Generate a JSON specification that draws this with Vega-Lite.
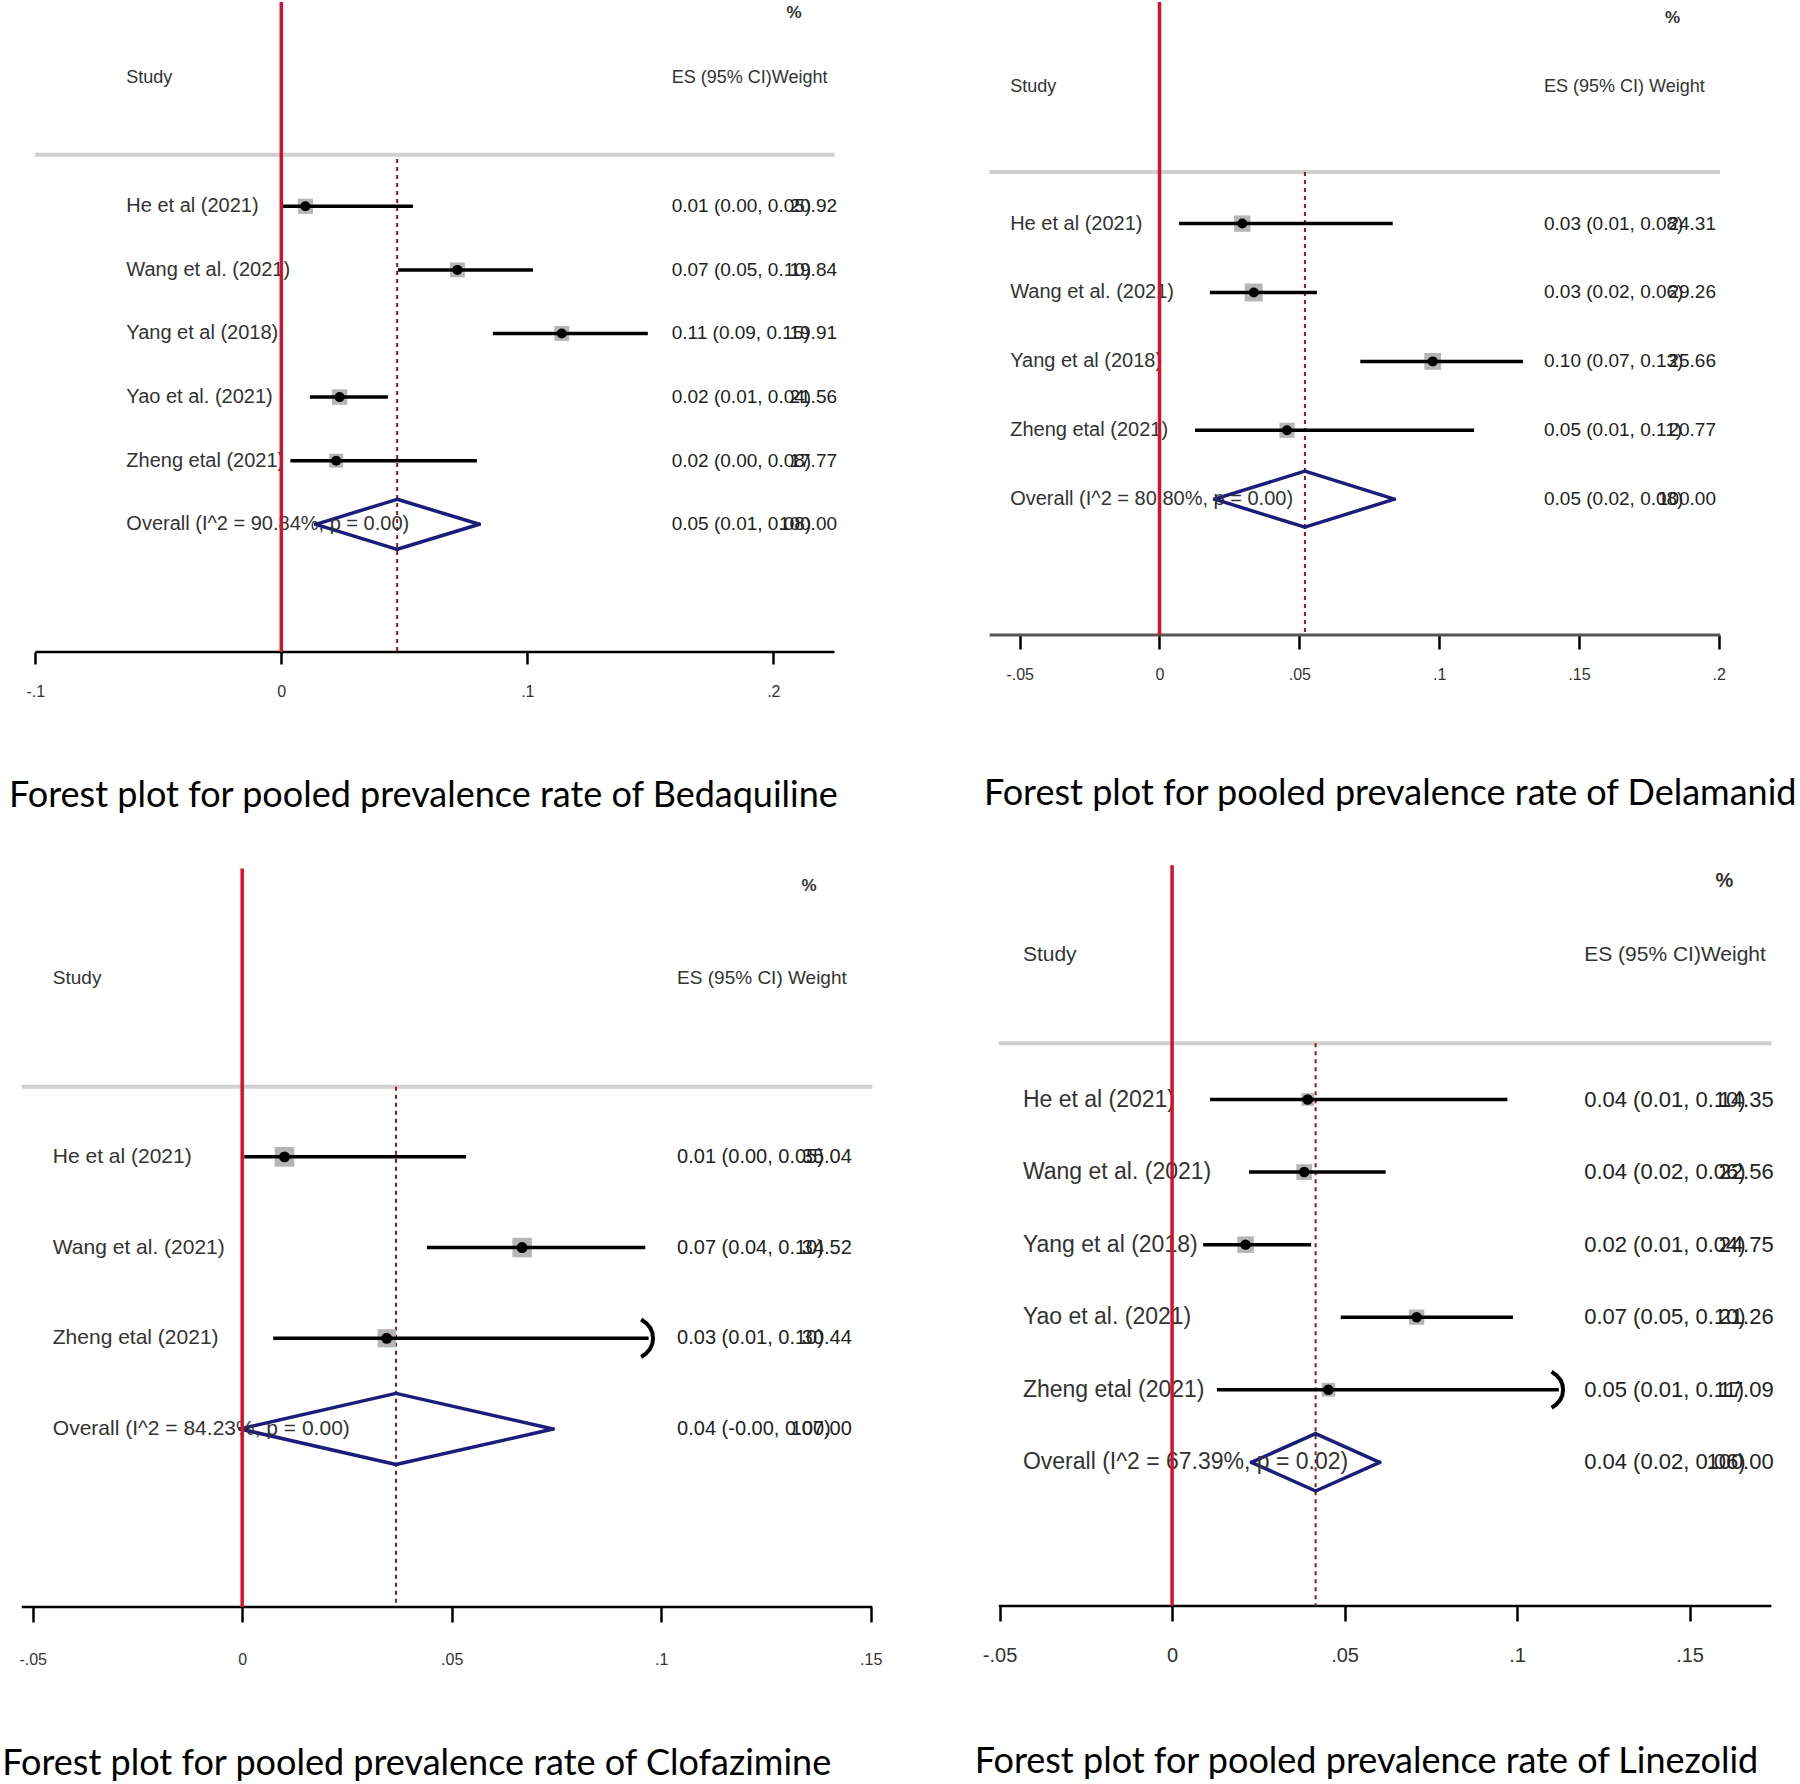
{
"$schema": "https://vega.github.io/schema/vega-lite/v6.json",
"padding": 0,
"background": "white",
"bounds": "flush",
"columns": 2,
"spacing": {"row": 210, "column": 0},
"config": {"view": {"stroke": null}, "axisY": {"disable": true}, "axis": {"grid": false}},
"datasets": {
"bed": [
{"study": "He et al (2021)", "row": 1, "es": 0.0098, "lo": 0.0005, "hi": 0.0535, "weight": 20.92, "esText": "0.01 (0.00, 0.05)", "wText": "20.92", "type": "study", "arrow": false},
{"study": "Wang et al. (2021)", "row": 2, "es": 0.0716, "lo": 0.0474, "hi": 0.1023, "weight": 19.84, "esText": "0.07 (0.05, 0.10)", "wText": "19.84", "type": "study", "arrow": false},
{"study": "Yang et al (2018)", "row": 3, "es": 0.114, "lo": 0.086, "hi": 0.149, "weight": 19.91, "esText": "0.11 (0.09, 0.15)", "wText": "19.91", "type": "study", "arrow": false},
{"study": "Yao et al. (2021)", "row": 4, "es": 0.0237, "lo": 0.0116, "hi": 0.0433, "weight": 21.56, "esText": "0.02 (0.01, 0.04)", "wText": "21.56", "type": "study", "arrow": false},
{"study": "Zheng etal (2021)", "row": 5, "es": 0.0223, "lo": 0.0037, "hi": 0.0795, "weight": 17.77, "esText": "0.02 (0.00, 0.08)", "wText": "17.77", "type": "study", "arrow": false},
{"study": "Overall  (I^2 = 90.84%, p = 0.00)", "row": 6, "es": 0.0471, "lo": 0.014, "hi": 0.0805, "weight": 100, "esText": "0.05 (0.01, 0.08)", "wText": "100.00", "type": "overall", "arrow": false}
],
"del": [
{"study": "He et al (2021)", "row": 1, "es": 0.0296, "lo": 0.007, "hi": 0.0834, "weight": 24.31, "esText": "0.03 (0.01, 0.08)", "wText": "24.31", "type": "study", "arrow": false},
{"study": "Wang et al. (2021)", "row": 2, "es": 0.0337, "lo": 0.018, "hi": 0.0563, "weight": 29.26, "esText": "0.03 (0.02, 0.06)", "wText": "29.26", "type": "study", "arrow": false},
{"study": "Yang et al (2018)", "row": 3, "es": 0.0977, "lo": 0.0718, "hi": 0.13, "weight": 25.66, "esText": "0.10 (0.07, 0.13)", "wText": "25.66", "type": "study", "arrow": false},
{"study": "Zheng etal (2021)", "row": 4, "es": 0.0456, "lo": 0.0127, "hi": 0.1125, "weight": 20.77, "esText": "0.05 (0.01, 0.11)", "wText": "20.77", "type": "study", "arrow": false},
{"study": "Overall  (I^2 = 80.80%, p = 0.00)", "row": 5, "es": 0.052, "lo": 0.0197, "hi": 0.084, "weight": 100, "esText": "0.05 (0.02, 0.08)", "wText": "100.00", "type": "overall", "arrow": false}
],
"clo": [
{"study": "He et al (2021)", "row": 1, "es": 0.0101, "lo": 0.0005, "hi": 0.0534, "weight": 35.04, "esText": "0.01 (0.00, 0.05)", "wText": "35.04", "type": "study", "arrow": false},
{"study": "Wang et al. (2021)", "row": 2, "es": 0.0668, "lo": 0.0441, "hi": 0.0962, "weight": 34.52, "esText": "0.07 (0.04, 0.10)", "wText": "34.52", "type": "study", "arrow": false},
{"study": "Zheng etal (2021)", "row": 3, "es": 0.0345, "lo": 0.0074, "hi": 0.097, "weight": 30.44, "esText": "0.03 (0.01, 0.10)", "wText": "30.44", "type": "study", "arrow": true},
{"study": "Overall  (I^2 = 84.23%, p = 0.00)", "row": 4, "es": 0.0367, "lo": -0.0005, "hi": 0.0742, "weight": 100, "esText": "0.04 (-0.00, 0.07)", "wText": "100.00", "type": "overall", "arrow": false}
],
"lin": [
{"study": "He et al (2021)", "row": 1, "es": 0.0393, "lo": 0.011, "hi": 0.0972, "weight": 14.35, "esText": "0.04 (0.01, 0.10)", "wText": "14.35", "type": "study", "arrow": false},
{"study": "Wang et al. (2021)", "row": 2, "es": 0.0383, "lo": 0.0223, "hi": 0.0619, "weight": 22.56, "esText": "0.04 (0.02, 0.06)", "wText": "22.56", "type": "study", "arrow": false},
{"study": "Yang et al (2018)", "row": 3, "es": 0.0213, "lo": 0.009, "hi": 0.0403, "weight": 24.75, "esText": "0.02 (0.01, 0.04)", "wText": "24.75", "type": "study", "arrow": false},
{"study": "Yao et al. (2021)", "row": 4, "es": 0.0709, "lo": 0.0489, "hi": 0.0988, "weight": 21.26, "esText": "0.07 (0.05, 0.10)", "wText": "21.26", "type": "study", "arrow": false},
{"study": "Zheng etal (2021)", "row": 5, "es": 0.0453, "lo": 0.013, "hi": 0.1121, "weight": 17.09, "esText": "0.05 (0.01, 0.11)", "wText": "17.09", "type": "study", "arrow": true},
{"study": "Overall  (I^2 = 67.39%, p = 0.02)", "row": 6, "es": 0.0416, "lo": 0.023, "hi": 0.0602, "weight": 100, "esText": "0.04 (0.02, 0.06)", "wText": "100.00", "type": "overall", "arrow": false}
]
},
"concat": [
{
"width": 960, "height": 650, "data": {"name": "bed"},
"layer": [
{"data": {"values": [{}]}, "mark": {"type": "rule", "color": "#cfcfcf", "strokeWidth": 4},
 "encoding": {
  "x": {"datum": -0.1, "type": "quantitative", "scale": {"domain": [-0.11435, 0.27589], "nice": false, "zero": false},
        "axis": {"values": [-0.1, 0, 0.1, 0.2], "labelExpr": "datum.value == 0 ? '0' : (datum.value < 0 ? '-' : '') + replace(format(abs(datum.value), ''), '0.', '.')", "domain": false, "grid": false, "ticks": true, "tickSize": 12, "tickWidth": 2.5, "tickColor": "#000", "labelPadding": 19, "labelFontSize": 16, "labelFont": "Liberation Sans", "labelColor": "#333", "title": null}},
  "x2": {"datum": 0.2249},
  "y": {"datum": 0.1887, "type": "quantitative", "scale": {"domain": [-2.2123, 8.0079], "reverse": true, "nice": false, "zero": false}, "axis": null}}},
{"data": {"values": [{}]}, "mark": {"type": "rule", "color": "#000", "strokeWidth": 2.5}, "encoding": {"x": {"datum": -0.1}, "x2": {"datum": 0.2249}, "y": {"datum": 8.0079}}},
{"transform": [{"filter": "datum.type == 'overall'"}], "mark": {"type": "rule", "color": "#8b1a1a", "strokeWidth": 2, "strokeDash": [4, 4]}, "encoding": {"x": {"field": "es", "type": "quantitative", "title": null}, "y": {"datum": 0.256}, "y2": {"datum": 8.0079}}},
{"transform": [{"filter": "datum.type == 'study'"}], "mark": {"type": "point", "shape": "square", "filled": true, "color": "#b5b5b5", "opacity": 1}, "encoding": {"x": {"field": "es", "type": "quantitative", "title": null}, "y": {"field": "row", "type": "quantitative", "axis": null}, "size": {"field": "weight", "type": "quantitative", "scale": {"domain": [0, 100], "range": [0, 1100]}, "legend": null}}},
{"transform": [{"filter": "datum.type == 'study'"}], "mark": {"type": "rule", "color": "#000", "strokeWidth": 3.5}, "encoding": {"x": {"field": "lo", "type": "quantitative", "title": null}, "x2": {"field": "hi"}, "y": {"field": "row", "type": "quantitative", "axis": null}}},
{"transform": [{"filter": "datum.type == 'study'"}], "mark": {"type": "point", "shape": "circle", "filled": true, "color": "#000", "opacity": 1, "size": 100}, "encoding": {"x": {"field": "es", "type": "quantitative", "title": null}, "y": {"field": "row", "type": "quantitative", "axis": null}}},
{"transform": [{"filter": "datum.type == 'overall'"}], "mark": {"type": "rule", "color": "#1c1c7a", "strokeWidth": 3.5, "strokeCap": "round", "y2Offset": -25}, "encoding": {"x": {"field": "lo", "type": "quantitative", "title": null}, "x2": {"field": "es"}, "y": {"field": "row", "type": "quantitative", "axis": null}, "y2": {"field": "row"}}},
{"transform": [{"filter": "datum.type == 'overall'"}], "mark": {"type": "rule", "color": "#1c1c7a", "strokeWidth": 3.5, "strokeCap": "round", "y2Offset": 25}, "encoding": {"x": {"field": "lo", "type": "quantitative", "title": null}, "x2": {"field": "es"}, "y": {"field": "row", "type": "quantitative", "axis": null}, "y2": {"field": "row"}}},
{"transform": [{"filter": "datum.type == 'overall'"}], "mark": {"type": "rule", "color": "#1c1c7a", "strokeWidth": 3.5, "strokeCap": "round", "yOffset": -25}, "encoding": {"x": {"field": "es", "type": "quantitative", "title": null}, "x2": {"field": "hi"}, "y": {"field": "row", "type": "quantitative", "axis": null}, "y2": {"field": "row"}}},
{"transform": [{"filter": "datum.type == 'overall'"}], "mark": {"type": "rule", "color": "#1c1c7a", "strokeWidth": 3.5, "strokeCap": "round", "yOffset": 25}, "encoding": {"x": {"field": "es", "type": "quantitative", "title": null}, "x2": {"field": "hi"}, "y": {"field": "row", "type": "quantitative", "axis": null}, "y2": {"field": "row"}}},
{"mark": {"type": "text", "align": "left", "baseline": "middle", "font": "Liberation Sans", "fontSize": 20, "color": "#333"}, "encoding": {"x": {"datum": -0.063}, "y": {"field": "row", "type": "quantitative", "axis": null}, "text": {"field": "study"}}},
{"mark": {"type": "text", "align": "left", "baseline": "middle", "font": "Liberation Sans", "fontSize": 19, "color": "#222"}, "encoding": {"x": {"datum": 0.1587}, "y": {"field": "row", "type": "quantitative", "axis": null}, "text": {"field": "esText"}}},
{"mark": {"type": "text", "align": "right", "baseline": "middle", "font": "Liberation Sans", "fontSize": 19, "color": "#222"}, "encoding": {"x": {"datum": 0.2259}, "y": {"field": "row", "type": "quantitative", "axis": null}, "text": {"field": "wText"}}},
{"data": {"values": [{}]}, "mark": {"type": "text", "align": "left", "baseline": "middle", "font": "Liberation Sans", "fontSize": 18, "color": "#333"}, "encoding": {"x": {"datum": -0.063}, "y": {"datum": -1.017}, "text": {"value": "Study"}}},
{"data": {"values": [{}]}, "mark": {"type": "text", "align": "left", "baseline": "middle", "font": "Liberation Sans", "fontSize": 18, "color": "#333"}, "encoding": {"x": {"datum": 0.1587}, "y": {"datum": -1.017}, "text": {"value": "ES (95% CI)Weight"}}},
{"data": {"values": [{}]}, "mark": {"type": "text", "align": "center", "baseline": "middle", "font": "Liberation Sans", "fontSize": 17, "fontWeight": "bold", "color": "#333"}, "encoding": {"x": {"datum": 0.2084}, "y": {"datum": -2.0315}, "text": {"value": "%"}}},
{"data": {"values": [{}]}, "mark": {"type": "text", "align": "left", "baseline": "middle", "font": "Lato", "fontSize": 36, "color": "#000"}, "encoding": {"x": {"datum": -0.1107}, "y": {"datum": 10.272}, "text": {"value": "Forest plot for pooled prevalence rate of Bedaquiline"}}},
{"data": {"values": [{}]}, "mark": {"type": "rule", "color": "#d3122c", "strokeWidth": 3.5}, "encoding": {"x": {"datum": 0}, "y": {"datum": -2.2123}, "y2": {"datum": 8.0079}}}
]
},
{
"width": 840, "height": 633, "data": {"name": "del"},
"layer": [
{"data": {"values": [{}]}, "mark": {"type": "rule", "color": "#cfcfcf", "strokeWidth": 4},
 "encoding": {
  "x": {"datum": -0.06075, "type": "quantitative", "scale": {"domain": [-0.07134, 0.22904], "nice": false, "zero": false},
        "axis": {"values": [-0.05, 0, 0.05, 0.1, 0.15, 0.2], "labelExpr": "datum.value == 0 ? '0' : (datum.value < 0 ? '-' : '') + replace(format(abs(datum.value), ''), '0.', '.')", "domain": false, "grid": false, "ticks": true, "tickSize": 14, "tickWidth": 2.5, "tickColor": "#000", "labelPadding": 17, "labelFontSize": 16, "labelFont": "Liberation Sans", "labelColor": "#333", "title": null}},
  "x2": {"datum": 0.2005},
  "y": {"datum": 0.251, "type": "quantitative", "scale": {"domain": [-2.216, 6.971], "reverse": true, "nice": false, "zero": false}, "axis": null}}},
{"data": {"values": [{}]}, "mark": {"type": "rule", "color": "#555", "strokeWidth": 3}, "encoding": {"x": {"datum": -0.06075}, "x2": {"datum": 0.2005}, "y": {"datum": 6.971}}},
{"transform": [{"filter": "datum.type == 'overall'"}], "mark": {"type": "rule", "color": "#8b1a1a", "strokeWidth": 2, "strokeDash": [4, 4]}, "encoding": {"x": {"field": "es", "type": "quantitative", "title": null}, "y": {"datum": 0.251}, "y2": {"datum": 6.971}}},
{"transform": [{"filter": "datum.type == 'study'"}], "mark": {"type": "point", "shape": "square", "filled": true, "color": "#b5b5b5", "opacity": 1}, "encoding": {"x": {"field": "es", "type": "quantitative", "title": null}, "y": {"field": "row", "type": "quantitative", "axis": null}, "size": {"field": "weight", "type": "quantitative", "scale": {"domain": [0, 100], "range": [0, 900]}, "legend": null}}},
{"transform": [{"filter": "datum.type == 'study'"}], "mark": {"type": "rule", "color": "#000", "strokeWidth": 3.5}, "encoding": {"x": {"field": "lo", "type": "quantitative", "title": null}, "x2": {"field": "hi"}, "y": {"field": "row", "type": "quantitative", "axis": null}}},
{"transform": [{"filter": "datum.type == 'study'"}], "mark": {"type": "point", "shape": "circle", "filled": true, "color": "#000", "opacity": 1, "size": 100}, "encoding": {"x": {"field": "es", "type": "quantitative", "title": null}, "y": {"field": "row", "type": "quantitative", "axis": null}}},
{"transform": [{"filter": "datum.type == 'overall'"}], "mark": {"type": "rule", "color": "#1c1c7a", "strokeWidth": 3.5, "strokeCap": "round", "y2Offset": -28}, "encoding": {"x": {"field": "lo", "type": "quantitative", "title": null}, "x2": {"field": "es"}, "y": {"field": "row", "type": "quantitative", "axis": null}, "y2": {"field": "row"}}},
{"transform": [{"filter": "datum.type == 'overall'"}], "mark": {"type": "rule", "color": "#1c1c7a", "strokeWidth": 3.5, "strokeCap": "round", "y2Offset": 28}, "encoding": {"x": {"field": "lo", "type": "quantitative", "title": null}, "x2": {"field": "es"}, "y": {"field": "row", "type": "quantitative", "axis": null}, "y2": {"field": "row"}}},
{"transform": [{"filter": "datum.type == 'overall'"}], "mark": {"type": "rule", "color": "#1c1c7a", "strokeWidth": 3.5, "strokeCap": "round", "yOffset": -28}, "encoding": {"x": {"field": "es", "type": "quantitative", "title": null}, "x2": {"field": "hi"}, "y": {"field": "row", "type": "quantitative", "axis": null}, "y2": {"field": "row"}}},
{"transform": [{"filter": "datum.type == 'overall'"}], "mark": {"type": "rule", "color": "#1c1c7a", "strokeWidth": 3.5, "strokeCap": "round", "yOffset": 28}, "encoding": {"x": {"field": "es", "type": "quantitative", "title": null}, "x2": {"field": "hi"}, "y": {"field": "row", "type": "quantitative", "axis": null}, "y2": {"field": "row"}}},
{"mark": {"type": "text", "align": "left", "baseline": "middle", "font": "Liberation Sans", "fontSize": 20, "color": "#333"}, "encoding": {"x": {"datum": -0.0534}, "y": {"field": "row", "type": "quantitative", "axis": null}, "text": {"field": "study"}}},
{"mark": {"type": "text", "align": "left", "baseline": "middle", "font": "Liberation Sans", "fontSize": 19, "color": "#222"}, "encoding": {"x": {"datum": 0.1375}, "y": {"field": "row", "type": "quantitative", "axis": null}, "text": {"field": "esText"}}},
{"mark": {"type": "text", "align": "right", "baseline": "middle", "font": "Liberation Sans", "fontSize": 19, "color": "#222"}, "encoding": {"x": {"datum": 0.199}, "y": {"field": "row", "type": "quantitative", "axis": null}, "text": {"field": "wText"}}},
{"data": {"values": [{}]}, "mark": {"type": "text", "align": "left", "baseline": "middle", "font": "Liberation Sans", "fontSize": 18, "color": "#333"}, "encoding": {"x": {"datum": -0.0534}, "y": {"datum": -0.982}, "text": {"value": "Study"}}},
{"data": {"values": [{}]}, "mark": {"type": "text", "align": "left", "baseline": "middle", "font": "Liberation Sans", "fontSize": 18, "color": "#333"}, "encoding": {"x": {"datum": 0.1375}, "y": {"datum": -0.982}, "text": {"value": "ES (95% CI) Weight"}}},
{"data": {"values": [{}]}, "mark": {"type": "text", "align": "center", "baseline": "middle", "font": "Liberation Sans", "fontSize": 17, "fontWeight": "bold", "color": "#333"}, "encoding": {"x": {"datum": 0.1835}, "y": {"datum": -1.984}, "text": {"value": "%"}}},
{"data": {"values": [{}]}, "mark": {"type": "text", "align": "left", "baseline": "middle", "font": "Lato", "fontSize": 36, "color": "#000"}, "encoding": {"x": {"datum": -0.0628}, "y": {"datum": 9.279}, "text": {"value": "Forest plot for pooled prevalence rate of Delamanid"}}},
{"data": {"values": [{}]}, "mark": {"type": "rule", "color": "#d3122c", "strokeWidth": 3.5}, "encoding": {"x": {"datum": 0}, "y": {"datum": -2.216}, "y2": {"datum": 6.971}}}
]
},
{
"width": 960, "height": 745, "data": {"name": "clo"},
"layer": [
{"data": {"values": [{}]}, "mark": {"type": "rule", "color": "#cfcfcf", "strokeWidth": 4},
 "encoding": {
  "x": {"datum": -0.0526, "type": "quantitative", "scale": {"domain": [-0.0578, 0.17131], "nice": false, "zero": false},
        "axis": {"values": [-0.05, 0, 0.05, 0.1, 0.15], "labelExpr": "datum.value == 0 ? '0' : (datum.value < 0 ? '-' : '') + replace(format(abs(datum.value), ''), '0.', '.')", "domain": false, "grid": false, "ticks": true, "tickSize": 15, "tickWidth": 2.5, "tickColor": "#000", "labelPadding": 29, "labelFontSize": 16, "labelFont": "Liberation Sans", "labelColor": "#333", "title": null}},
  "x2": {"datum": 0.1504},
  "y": {"datum": 0.228, "type": "quantitative", "scale": {"domain": [-2.251, 5.963], "reverse": true, "nice": false, "zero": false}, "axis": null}}},
{"data": {"values": [{}]}, "mark": {"type": "rule", "color": "#000", "strokeWidth": 2.5}, "encoding": {"x": {"datum": -0.0526}, "x2": {"datum": 0.1504}, "y": {"datum": 5.963}}},
{"transform": [{"filter": "datum.type == 'overall'"}], "mark": {"type": "rule", "color": "#8b1a1a", "strokeWidth": 2, "strokeDash": [4, 4]}, "encoding": {"x": {"field": "es", "type": "quantitative", "title": null}, "y": {"datum": 0.228}, "y2": {"datum": 5.963}}},
{"transform": [{"filter": "datum.type == 'study'"}], "mark": {"type": "point", "shape": "square", "filled": true, "color": "#b5b5b5", "opacity": 1}, "encoding": {"x": {"field": "es", "type": "quantitative", "title": null}, "y": {"field": "row", "type": "quantitative", "axis": null}, "size": {"field": "weight", "type": "quantitative", "scale": {"domain": [0, 100], "range": [0, 1600]}, "legend": null}}},
{"transform": [{"filter": "datum.type == 'study'"}], "mark": {"type": "rule", "color": "#000", "strokeWidth": 3.5}, "encoding": {"x": {"field": "lo", "type": "quantitative", "title": null}, "x2": {"field": "hi"}, "y": {"field": "row", "type": "quantitative", "axis": null}}},
{"transform": [{"filter": "datum.type == 'study'"}], "mark": {"type": "point", "shape": "circle", "filled": true, "color": "#000", "opacity": 1, "size": 120}, "encoding": {"x": {"field": "es", "type": "quantitative", "title": null}, "y": {"field": "row", "type": "quantitative", "axis": null}}},
{"transform": [{"filter": "datum.arrow"}], "mark": {"type": "point", "shape": "M-0.4,-1C0.45,-0.5 0.45,0.5 -0.4,1", "filled": false, "stroke": "#000", "strokeWidth": 4, "opacity": 1, "size": 1400}, "encoding": {"x": {"field": "hi", "type": "quantitative", "title": null}, "y": {"field": "row", "type": "quantitative", "axis": null}}},
{"transform": [{"filter": "datum.type == 'overall'"}], "mark": {"type": "rule", "color": "#1c1c7a", "strokeWidth": 3.5, "strokeCap": "round", "y2Offset": -35.6}, "encoding": {"x": {"field": "lo", "type": "quantitative", "title": null}, "x2": {"field": "es"}, "y": {"field": "row", "type": "quantitative", "axis": null}, "y2": {"field": "row"}}},
{"transform": [{"filter": "datum.type == 'overall'"}], "mark": {"type": "rule", "color": "#1c1c7a", "strokeWidth": 3.5, "strokeCap": "round", "y2Offset": 35.6}, "encoding": {"x": {"field": "lo", "type": "quantitative", "title": null}, "x2": {"field": "es"}, "y": {"field": "row", "type": "quantitative", "axis": null}, "y2": {"field": "row"}}},
{"transform": [{"filter": "datum.type == 'overall'"}], "mark": {"type": "rule", "color": "#1c1c7a", "strokeWidth": 3.5, "strokeCap": "round", "yOffset": -35.6}, "encoding": {"x": {"field": "es", "type": "quantitative", "title": null}, "x2": {"field": "hi"}, "y": {"field": "row", "type": "quantitative", "axis": null}, "y2": {"field": "row"}}},
{"transform": [{"filter": "datum.type == 'overall'"}], "mark": {"type": "rule", "color": "#1c1c7a", "strokeWidth": 3.5, "strokeCap": "round", "yOffset": 35.6}, "encoding": {"x": {"field": "es", "type": "quantitative", "title": null}, "x2": {"field": "hi"}, "y": {"field": "row", "type": "quantitative", "axis": null}, "y2": {"field": "row"}}},
{"mark": {"type": "text", "align": "left", "baseline": "middle", "font": "Liberation Sans", "fontSize": 21, "color": "#333"}, "encoding": {"x": {"datum": -0.0452}, "y": {"field": "row", "type": "quantitative", "axis": null}, "text": {"field": "study"}}},
{"mark": {"type": "text", "align": "left", "baseline": "middle", "font": "Liberation Sans", "fontSize": 20, "color": "#222"}, "encoding": {"x": {"datum": 0.1038}, "y": {"field": "row", "type": "quantitative", "axis": null}, "text": {"field": "esText"}}},
{"mark": {"type": "text", "align": "right", "baseline": "middle", "font": "Liberation Sans", "fontSize": 20, "color": "#222"}, "encoding": {"x": {"datum": 0.1455}, "y": {"field": "row", "type": "quantitative", "axis": null}, "text": {"field": "wText"}}},
{"data": {"values": [{}]}, "mark": {"type": "text", "align": "left", "baseline": "middle", "font": "Liberation Sans", "fontSize": 19, "color": "#333"}, "encoding": {"x": {"datum": -0.0452}, "y": {"datum": -0.975}, "text": {"value": "Study"}}},
{"data": {"values": [{}]}, "mark": {"type": "text", "align": "left", "baseline": "middle", "font": "Liberation Sans", "fontSize": 19, "color": "#333"}, "encoding": {"x": {"datum": 0.1038}, "y": {"datum": -0.975}, "text": {"value": "ES (95% CI) Weight"}}},
{"data": {"values": [{}]}, "mark": {"type": "text", "align": "center", "baseline": "middle", "font": "Liberation Sans", "fontSize": 17, "fontWeight": "bold", "color": "#333"}, "encoding": {"x": {"datum": 0.1353}, "y": {"datum": -1.987}, "text": {"value": "%"}}},
{"data": {"values": [{}]}, "mark": {"type": "text", "align": "left", "baseline": "middle", "font": "Lato", "fontSize": 36, "color": "#000"}, "encoding": {"x": {"datum": -0.05726}, "y": {"datum": 7.694}, "text": {"value": "Forest plot for pooled prevalence rate of Clofazimine"}}},
{"data": {"values": [{}]}, "mark": {"type": "rule", "color": "#d3122c", "strokeWidth": 3.5}, "encoding": {"x": {"datum": 0}, "y": {"datum": -2.178}, "y2": {"datum": 5.963}}}
]
},
{
"width": 840, "height": 744, "data": {"name": "lin"},
"layer": [
{"data": {"values": [{}]}, "mark": {"type": "rule", "color": "#cfcfcf", "strokeWidth": 4},
 "encoding": {
  "x": {"datum": -0.05024, "type": "quantitative", "scale": {"domain": [-0.06148, 0.18202], "nice": false, "zero": false},
        "axis": {"values": [-0.05, 0, 0.05, 0.1, 0.15], "labelExpr": "datum.value == 0 ? '0' : (datum.value < 0 ? '-' : '') + replace(format(abs(datum.value), ''), '0.', '.')", "domain": false, "grid": false, "ticks": true, "tickSize": 15, "tickWidth": 2.5, "tickColor": "#000", "labelPadding": 24, "labelFontSize": 20, "labelFont": "Liberation Sans", "labelColor": "#333", "title": null}},
  "x2": {"datum": 0.17373},
  "y": {"datum": 0.224, "type": "quantitative", "scale": {"domain": [-2.273, 7.98], "reverse": true, "nice": false, "zero": false}, "axis": null}}},
{"data": {"values": [{}]}, "mark": {"type": "rule", "color": "#000", "strokeWidth": 2.5}, "encoding": {"x": {"datum": -0.05024}, "x2": {"datum": 0.17373}, "y": {"datum": 7.98}}},
{"transform": [{"filter": "datum.type == 'overall'"}], "mark": {"type": "rule", "color": "#8b1a1a", "strokeWidth": 2, "strokeDash": [4, 4]}, "encoding": {"x": {"field": "es", "type": "quantitative", "title": null}, "y": {"datum": 0.224}, "y2": {"datum": 7.98}}},
{"transform": [{"filter": "datum.type == 'study'"}], "mark": {"type": "point", "shape": "square", "filled": true, "color": "#b5b5b5", "opacity": 1}, "encoding": {"x": {"field": "es", "type": "quantitative", "title": null}, "y": {"field": "row", "type": "quantitative", "axis": null}, "size": {"field": "weight", "type": "quantitative", "scale": {"domain": [0, 100], "range": [0, 2200]}, "legend": null}}},
{"transform": [{"filter": "datum.type == 'study'"}], "mark": {"type": "rule", "color": "#000", "strokeWidth": 3.5}, "encoding": {"x": {"field": "lo", "type": "quantitative", "title": null}, "x2": {"field": "hi"}, "y": {"field": "row", "type": "quantitative", "axis": null}}},
{"transform": [{"filter": "datum.type == 'study'"}], "mark": {"type": "point", "shape": "circle", "filled": true, "color": "#000", "opacity": 1, "size": 110}, "encoding": {"x": {"field": "es", "type": "quantitative", "title": null}, "y": {"field": "row", "type": "quantitative", "axis": null}}},
{"transform": [{"filter": "datum.arrow"}], "mark": {"type": "point", "shape": "M-0.4,-1C0.45,-0.5 0.45,0.5 -0.4,1", "filled": false, "stroke": "#000", "strokeWidth": 4, "opacity": 1, "size": 1300}, "encoding": {"x": {"field": "hi", "type": "quantitative", "title": null}, "y": {"field": "row", "type": "quantitative", "axis": null}}},
{"transform": [{"filter": "datum.type == 'overall'"}], "mark": {"type": "rule", "color": "#1c1c7a", "strokeWidth": 3.5, "strokeCap": "round", "y2Offset": -28.7}, "encoding": {"x": {"field": "lo", "type": "quantitative", "title": null}, "x2": {"field": "es"}, "y": {"field": "row", "type": "quantitative", "axis": null}, "y2": {"field": "row"}}},
{"transform": [{"filter": "datum.type == 'overall'"}], "mark": {"type": "rule", "color": "#1c1c7a", "strokeWidth": 3.5, "strokeCap": "round", "y2Offset": 28.7}, "encoding": {"x": {"field": "lo", "type": "quantitative", "title": null}, "x2": {"field": "es"}, "y": {"field": "row", "type": "quantitative", "axis": null}, "y2": {"field": "row"}}},
{"transform": [{"filter": "datum.type == 'overall'"}], "mark": {"type": "rule", "color": "#1c1c7a", "strokeWidth": 3.5, "strokeCap": "round", "yOffset": -28.7}, "encoding": {"x": {"field": "es", "type": "quantitative", "title": null}, "x2": {"field": "hi"}, "y": {"field": "row", "type": "quantitative", "axis": null}, "y2": {"field": "row"}}},
{"transform": [{"filter": "datum.type == 'overall'"}], "mark": {"type": "rule", "color": "#1c1c7a", "strokeWidth": 3.5, "strokeCap": "round", "yOffset": 28.7}, "encoding": {"x": {"field": "es", "type": "quantitative", "title": null}, "x2": {"field": "hi"}, "y": {"field": "row", "type": "quantitative", "axis": null}, "y2": {"field": "row"}}},
{"mark": {"type": "text", "align": "left", "baseline": "middle", "font": "Liberation Sans", "fontSize": 23, "color": "#333"}, "encoding": {"x": {"datum": -0.04325}, "y": {"field": "row", "type": "quantitative", "axis": null}, "text": {"field": "study"}}},
{"mark": {"type": "text", "align": "left", "baseline": "middle", "font": "Liberation Sans", "fontSize": 22, "color": "#222"}, "encoding": {"x": {"datum": 0.11946}, "y": {"field": "row", "type": "quantitative", "axis": null}, "text": {"field": "esText"}}},
{"mark": {"type": "text", "align": "right", "baseline": "middle", "font": "Liberation Sans", "fontSize": 22, "color": "#222"}, "encoding": {"x": {"datum": 0.1744}, "y": {"field": "row", "type": "quantitative", "axis": null}, "text": {"field": "wText"}}},
{"data": {"values": [{}]}, "mark": {"type": "text", "align": "left", "baseline": "middle", "font": "Liberation Sans", "fontSize": 21, "color": "#333"}, "encoding": {"x": {"datum": -0.04325}, "y": {"datum": -0.994}, "text": {"value": "Study"}}},
{"data": {"values": [{}]}, "mark": {"type": "text", "align": "left", "baseline": "middle", "font": "Liberation Sans", "fontSize": 21, "color": "#333"}, "encoding": {"x": {"datum": 0.11946}, "y": {"datum": -0.994}, "text": {"value": "ES (95% CI)Weight"}}},
{"data": {"values": [{}]}, "mark": {"type": "text", "align": "center", "baseline": "middle", "font": "Liberation Sans", "fontSize": 20, "fontWeight": "bold", "color": "#333"}, "encoding": {"x": {"datum": 0.1601}, "y": {"datum": -2.006}, "text": {"value": "%"}}},
{"data": {"values": [{}]}, "mark": {"type": "text", "align": "left", "baseline": "middle", "font": "Lato", "fontSize": 36, "color": "#000"}, "encoding": {"x": {"datum": -0.05722}, "y": {"datum": 10.129}, "text": {"value": "Forest plot for pooled prevalence rate of Linezolid"}}},
{"data": {"values": [{}]}, "mark": {"type": "rule", "color": "#d3122c", "strokeWidth": 3.5}, "encoding": {"x": {"datum": 0}, "y": {"datum": -2.228}, "y2": {"datum": 7.98}}}
]
}
]
}
